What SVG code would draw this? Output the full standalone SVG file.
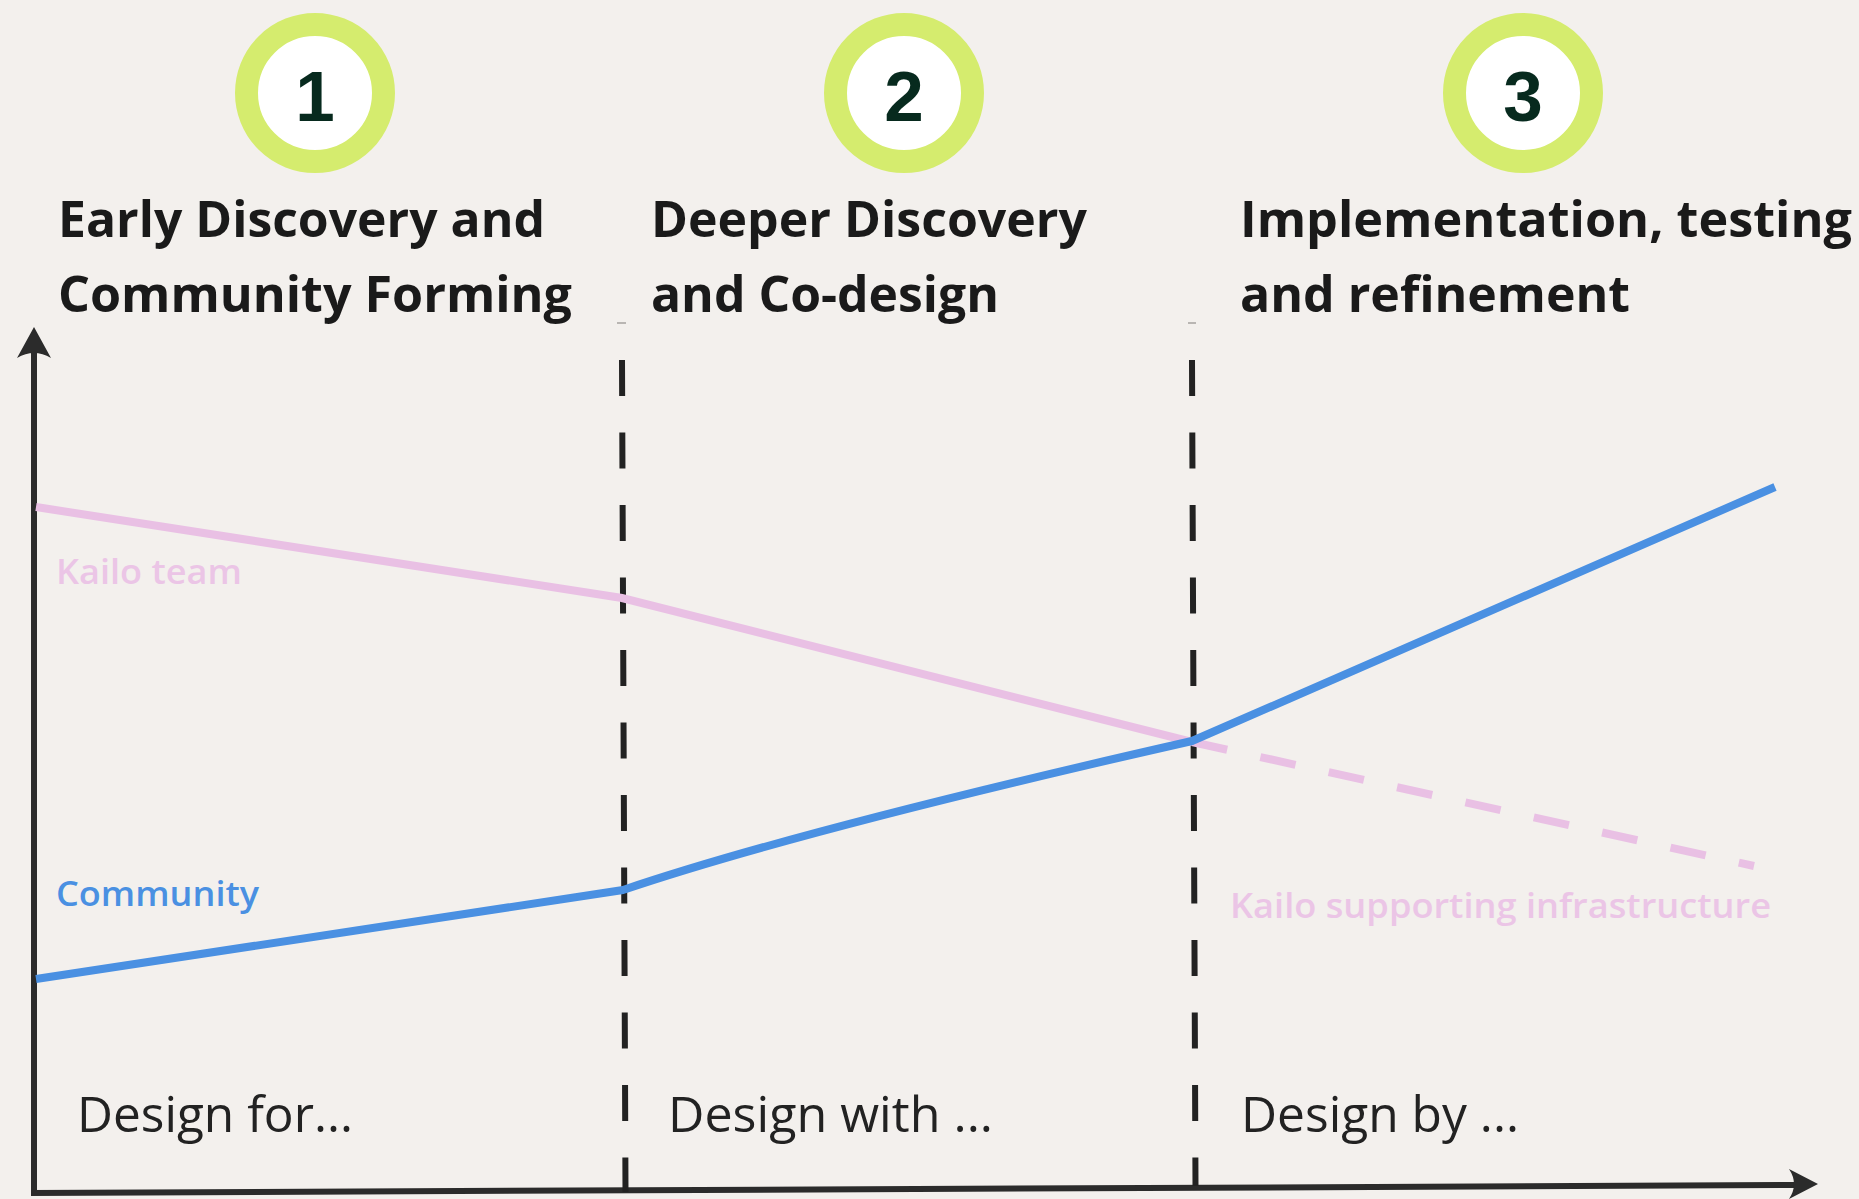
<svg xmlns="http://www.w3.org/2000/svg" width="1859" height="1199" viewBox="0 0 1859 1199">
  <defs>
    <style>
      .bg { fill: #f3f0ed; }
      .ring { fill: #ffffff; stroke: #d5ec6e; stroke-width: 23; }
      .digit { font-family: "Liberation Sans", Arial, sans-serif; font-weight: 700; font-size: 71px; fill: #072a1e; text-anchor: middle; }
      .title { font-family: "Open Sans", "Noto Sans", sans-serif; font-weight: 700; font-size: 50px; fill: #1a1a1a; }
      .design { font-family: "Open Sans", "Noto Sans", sans-serif; font-weight: 400; font-size: 50px; fill: #222222; }
      .lbl { font-family: "Open Sans", "Noto Sans", sans-serif; font-weight: 600; font-size: 35px; }
      .axis { stroke: #2b2b2b; stroke-width: 6; fill: none; }
      .divider { stroke: #222222; stroke-width: 6; fill: none; stroke-dasharray: 36 36.5; }
      .pink { stroke: #e9c0e4; stroke-width: 8; fill: none; stroke-linecap: butt; }
      .blue { stroke: #4a90e2; stroke-width: 8; fill: none; stroke-linejoin: round; }
    </style>
  </defs>
  <rect class="bg" x="0" y="0" width="1859" height="1199"/>

  <g id="phase1">
    <circle class="ring" cx="315" cy="93" r="68.5"/>
    <text class="digit" x="315" y="121">1</text>
    <text class="title" x="58" y="237" textLength="487" lengthAdjust="spacingAndGlyphs">Early Discovery and</text>
    <text class="title" x="58" y="312" textLength="514" lengthAdjust="spacingAndGlyphs">Community Forming</text>
    <text class="design" x="77" y="1132" textLength="276" lengthAdjust="spacingAndGlyphs">Design for...</text>
  </g>

  <g id="phase2">
    <circle class="ring" cx="904" cy="93" r="68.5"/>
    <text class="digit" x="904" y="121">2</text>
    <text class="title" x="651" y="237" textLength="436" lengthAdjust="spacingAndGlyphs">Deeper Discovery</text>
    <text class="title" x="651" y="312" textLength="348" lengthAdjust="spacingAndGlyphs">and Co-design</text>
    <text class="design" x="668" y="1132" textLength="325" lengthAdjust="spacingAndGlyphs">Design with ...</text>
  </g>

  <g id="phase3">
    <circle class="ring" cx="1523" cy="93" r="68.5"/>
    <text class="digit" x="1523" y="121">3</text>
    <text class="title" x="1240" y="237" textLength="612" lengthAdjust="spacingAndGlyphs">Implementation, testing</text>
    <text class="title" x="1240" y="312" textLength="390" lengthAdjust="spacingAndGlyphs">and refinement</text>
    <text class="design" x="1241" y="1132" textLength="278" lengthAdjust="spacingAndGlyphs">Design by ...</text>
  </g>

  <g id="connectors">
    <!-- axes -->
    <line class="axis" x1="34" y1="1193" x2="34" y2="345"/>
    <path d="M34,327 L17,358 Q34,348 51,358 Z" fill="#2b2b2b"/>
    <line class="axis" x1="31" y1="1193" x2="1800" y2="1185"/>
    <path d="M1818,1184 L1789,1169 Q1799,1184 1789,1199 Z" fill="#2b2b2b"/>

    <!-- phase dividers -->
    <line x1="617" y1="323" x2="626" y2="323" stroke="#b9b6b3" stroke-width="2"/>
    <line x1="1188" y1="323" x2="1196" y2="323" stroke="#b9b6b3" stroke-width="2"/>
    <line class="divider" x1="622" y1="360" x2="625.5" y2="1192"/>
    <line class="divider" x1="1192" y1="360" x2="1195.5" y2="1186"/>

    <!-- Kailo team line -->
    <polyline class="pink" points="36,507 622,598 1192,742"/>
    <line class="pink" x1="1192" y1="742" x2="1754" y2="866" stroke-dasharray="36 34"/>

    <!-- Community line -->
    <path class="blue" d="M36,979 L623,890 Q800,830 1192,741 L1775,487"/>
  </g>

  <g id="labels">
    <text class="lbl" x="56" y="584" fill="#ebc5e6" textLength="186" lengthAdjust="spacingAndGlyphs">Kailo team</text>
    <text class="lbl" x="56" y="906" fill="#4a90e2" textLength="203" lengthAdjust="spacingAndGlyphs">Community</text>
    <text class="lbl" x="1230" y="918" fill="#ebc5e6" textLength="541" lengthAdjust="spacingAndGlyphs">Kailo supporting infrastructure</text>
  </g>
</svg>
